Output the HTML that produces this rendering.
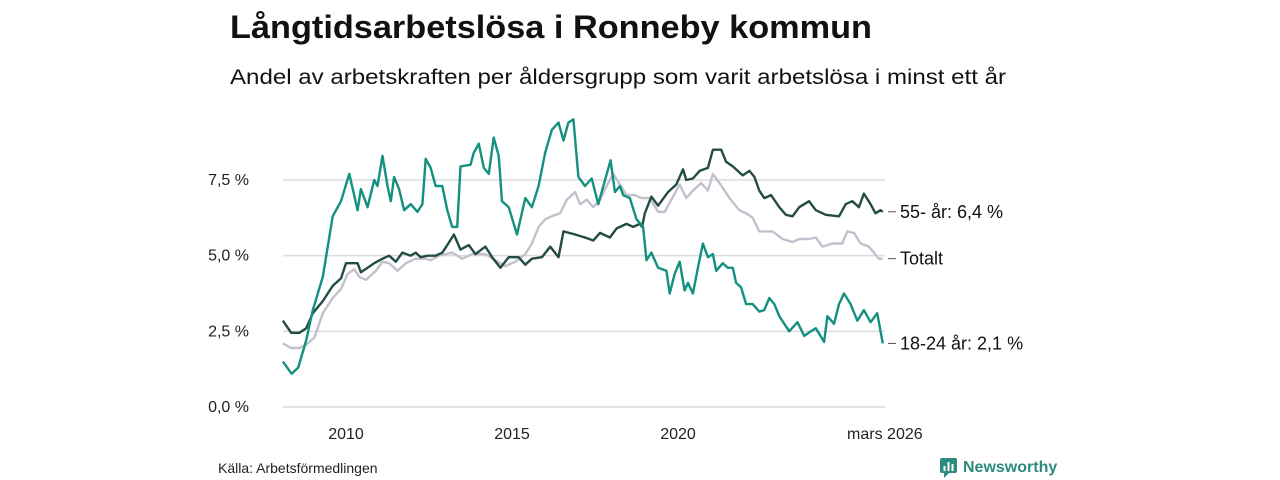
<!DOCTYPE html>
<html><head><meta charset="utf-8"><style>
html,body{margin:0;padding:0;background:#fff;width:1280px;height:480px;overflow:hidden}
svg text{font-family:"Liberation Sans","Noto Sans CJK SC",sans-serif}
</style></head><body>
<svg id="chart" width="1280" height="480" xmlns="http://www.w3.org/2000/svg">
<text x="230" y="38" font-size="32" font-weight="bold" fill="#111" textLength="642" lengthAdjust="spacingAndGlyphs">Långtidsarbetslösa i Ronneby kommun</text>
<text x="230" y="84" font-size="21" fill="#111" textLength="776" lengthAdjust="spacingAndGlyphs">Andel av arbetskraften per åldersgrupp som varit arbetslösa i minst ett år</text>
<g id="grid"></g>
<g id="series"></g>
<text x="218" y="473" font-size="14" fill="#222">Källa: Arbetsförmedlingen</text>
<g>
<rect x="940" y="458" width="17" height="15" rx="2" fill="#2e8a7c"/>
<path d="M944 473 l0 5 l5 -5z" fill="#2e8a7c"/>
<rect x="943.5" y="466" width="2" height="5" fill="#fff"/><rect x="947.5" y="462" width="2" height="9" fill="#fff"/><rect x="951.5" y="464" width="2" height="7" fill="#fff"/>
<text x="963" y="472" font-size="16" font-weight="bold" fill="#2e8a7c">Newsworthy</text>
</g>
</svg>
<script>
const yTicks=[0,2.5,5,7.5];
const yTickLabels=["0,0 %","2,5 %","5,0 %","7,5 %"];
const xTicks=[2010,2015,2020,2026.17];
const xTickLabels=["2010","2015","2020","mars 2026"];
const youngYears=[2008.1,2008.36,2008.56,2008.8,2009.0,2009.3,2009.6,2009.85,2010.1,2010.35,2010.45,2010.65,2010.85,2010.95,2011.1,2011.25,2011.35,2011.45,2011.6,2011.75,2011.95,2012.15,2012.3,2012.4,2012.55,2012.7,2012.9,2013.05,2013.2,2013.35,2013.45,2013.75,2013.85,2014.0,2014.15,2014.3,2014.45,2014.6,2014.7,2014.9,2015.15,2015.4,2015.6,2015.8,2016.0,2016.2,2016.4,2016.55,2016.7,2016.85,2017.0,2017.2,2017.4,2017.6,2017.8,2017.97,2018.1,2018.25,2018.35,2018.55,2018.75,2018.95,2019.05,2019.2,2019.4,2019.65,2019.75,2019.9,2020.05,2020.2,2020.3,2020.45,2020.6,2020.75,2020.9,2021.05,2021.15,2021.35,2021.5,2021.65,2021.75,2021.9,2022.05,2022.25,2022.45,2022.6,2022.75,2022.9,2023.05,2023.35,2023.6,2023.8,2024.0,2024.15,2024.4,2024.5,2024.7,2024.85,2025.0,2025.2,2025.4,2025.6,2025.8,2026.0,2026.17];
const youngValues=[1.5,1.1,1.3,2.2,3.2,4.3,6.3,6.8,7.7,6.5,7.2,6.6,7.5,7.3,8.3,7.3,6.8,7.6,7.2,6.5,6.7,6.45,6.7,8.2,7.9,7.3,7.3,6.5,5.95,5.95,7.95,8.0,8.4,8.7,7.9,7.7,8.9,8.3,6.8,6.6,5.7,6.9,6.6,7.3,8.4,9.15,9.4,8.8,9.4,9.5,7.6,7.3,7.55,6.7,7.5,8.15,7.1,7.3,7.0,6.9,6.2,5.95,4.85,5.1,4.6,4.5,3.75,4.4,4.8,3.85,4.1,3.75,4.6,5.4,4.95,5.05,4.5,4.75,4.6,4.6,4.1,3.95,3.4,3.4,3.15,3.2,3.6,3.4,3.0,2.5,2.8,2.35,2.5,2.6,2.15,3.0,2.75,3.4,3.75,3.4,2.85,3.2,2.8,3.1,2.1];
const oldYears=[2008.1,2008.35,2008.6,2008.8,2009.0,2009.3,2009.6,2009.85,2010.0,2010.35,2010.45,2010.65,2010.85,2011.1,2011.3,2011.5,2011.7,2011.95,2012.1,2012.25,2012.45,2012.7,2012.9,2013.05,2013.25,2013.45,2013.7,2013.9,2014.2,2014.4,2014.65,2014.9,2015.2,2015.4,2015.6,2015.9,2016.15,2016.4,2016.55,2016.9,2017.2,2017.45,2017.65,2017.95,2018.15,2018.45,2018.65,2018.85,2018.92,2019.0,2019.2,2019.4,2019.7,2019.95,2020.15,2020.25,2020.45,2020.65,2020.9,2021.05,2021.3,2021.45,2021.65,2021.95,2022.15,2022.3,2022.45,2022.6,2022.8,2023.05,2023.25,2023.45,2023.65,2023.95,2024.15,2024.45,2024.85,2025.05,2025.25,2025.45,2025.6,2025.8,2025.95,2026.1,2026.17];
const oldValues=[2.85,2.45,2.45,2.6,3.1,3.5,4.0,4.25,4.75,4.75,4.45,4.6,4.75,4.9,5.0,4.8,5.1,5.0,5.1,4.95,5.0,5.0,5.1,5.35,5.7,5.2,5.35,5.05,5.3,4.95,4.6,4.95,4.95,4.7,4.9,4.95,5.3,4.95,5.8,5.7,5.6,5.5,5.75,5.6,5.9,6.05,5.95,6.05,5.95,6.4,6.95,6.65,7.1,7.35,7.85,7.5,7.55,7.8,7.9,8.5,8.5,8.1,7.95,7.65,7.8,7.6,7.15,6.9,7.0,6.6,6.35,6.3,6.6,6.8,6.5,6.35,6.3,6.7,6.8,6.6,7.05,6.7,6.4,6.5,6.45];
const totYears=[2008.1,2008.35,2008.6,2008.8,2009.05,2009.3,2009.6,2009.85,2010.05,2010.25,2010.4,2010.6,2010.9,2011.1,2011.3,2011.55,2011.8,2012.1,2012.4,2012.55,2012.8,2013.2,2013.5,2013.8,2014.2,2014.5,2014.8,2015.1,2015.4,2015.6,2015.8,2016.0,2016.2,2016.45,2016.65,2016.9,2017.05,2017.25,2017.45,2017.65,2017.85,2018.05,2018.25,2018.45,2018.7,2018.9,2019.15,2019.4,2019.6,2019.8,2020.05,2020.25,2020.45,2020.7,2020.9,2021.05,2021.25,2021.55,2021.85,2022.05,2022.25,2022.45,2022.85,2023.15,2023.45,2023.65,2023.95,2024.15,2024.35,2024.65,2024.95,2025.1,2025.3,2025.5,2025.75,2026.05,2026.17];
const totValues=[2.1,1.95,1.95,2.05,2.3,3.1,3.6,3.9,4.4,4.55,4.3,4.2,4.5,4.8,4.75,4.5,4.75,4.9,4.9,4.85,5.0,5.1,4.9,5.05,5.05,4.85,4.65,4.8,5.05,5.4,5.95,6.2,6.3,6.4,6.85,7.1,6.7,6.85,6.6,6.85,7.3,7.7,7.35,7.0,7.0,6.9,6.9,6.45,6.45,6.85,7.35,6.9,7.15,7.4,7.15,7.7,7.4,6.9,6.5,6.4,6.25,5.8,5.8,5.55,5.45,5.55,5.55,5.6,5.3,5.4,5.4,5.8,5.75,5.4,5.3,4.9,4.9];
const NS='http://www.w3.org/2000/svg';
const X0=283,X1=885,Y0=407,PXV=30.27;
function xs(t){return 346+(t-2010)*33.2;}
function ys(v){return Y0-v*PXV;}
const grid=document.getElementById('grid'),ser=document.getElementById('series'),svg=document.getElementById('chart');
function mk(tag,attrs,parent){const e=document.createElementNS(NS,tag);for(const k in attrs)e.setAttribute(k,attrs[k]);parent.appendChild(e);return e;}
yTicks.forEach((v,i)=>{
 const l=mk('line',{x1:X0,x2:X1,y1:ys(v),y2:ys(v),stroke:'#dcdbe0','stroke-width':1.5},grid);
 
 
 const t=mk('text',{x:249,y:ys(v)+5,'text-anchor':'end','font-size':16,fill:'#222'},grid);
 t.textContent=yTickLabels[i];
 
 
});
xTicks.forEach((v,i)=>{
 const t=mk('text',{x:i==3?xs(v)+2:xs(v),y:439,'text-anchor':'middle','font-size':16,fill:'#222'},grid);
 t.textContent=xTickLabels[i];
 
 
});
function line(years,vals,color,name){
 const d=years.map((t,i)=>(i?'L':'M')+xs(t).toFixed(1)+' '+ys(vals[i]).toFixed(1)).join(' ');
 const p=mk('path',{d:d,fill:'none',stroke:color,'stroke-width':2.4,'stroke-linejoin':'round'},ser);
 
 
 return ys(vals[vals.length-1]);
}
const yt=line(totYears,totValues,'#c3c0cd','line-totalt');
const yo=line(oldYears,oldValues,'#234d42','line-55-plus');
const yy=line(youngYears,youngValues,'#13907f','line-18-24');
[[yo,'55- år: 6,4 %'],[yt,'Totalt'],[yy,'18-24 år: 2,1 %']].forEach(([y,s])=>{
 mk('line',{x1:888,x2:896,y1:y,y2:y,stroke:'#555','stroke-width':1},ser);
 const t=mk('text',{x:900,y:y+6,'font-size':18,fill:'#111'},ser);
 t.textContent=s;
 
 
});
</script>
</body></html>
